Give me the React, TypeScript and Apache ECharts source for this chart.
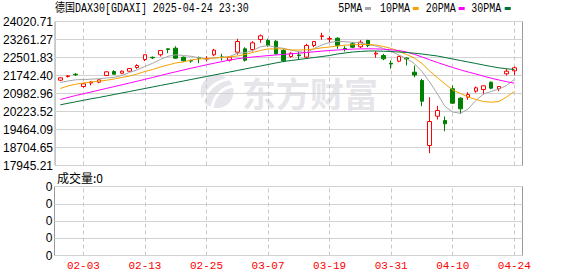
import React, { useEffect, useRef } from 'react';
import * as echarts from 'echarts';

const titleText = '德国DAX30[GDAXI] 2025-04-24 23:30';

const dates = [
  '01-29', '01-30', '01-31', '02-03', '02-04', '02-05', '02-06', '02-07', '02-10', '02-11',
  '02-12', '02-13', '02-14', '02-17', '02-18', '02-19', '02-20', '02-21', '02-24', '02-25',
  '02-26', '02-27', '02-28', '03-03', '03-04', '03-05', '03-06', '03-07', '03-10', '03-11',
  '03-12', '03-13', '03-14', '03-17', '03-18', '03-19', '03-20', '03-21', '03-24', '03-25',
  '03-26', '03-27', '03-28', '03-31', '04-01', '04-02', '04-03', '04-04', '04-07', '04-08',
  '04-09', '04-10', '04-11', '04-14', '04-15', '04-16', '04-17', '04-22', '04-23', '04-24',
];

// [open, close, low, high]
const ohlc = [
  [21544, 21645, 21502, 21666], [21700, 21730, 21658, 21763], [21797, 21772, 21721, 21848],
  [21278, 21392, 21223, 21405], [21426, 21468, 21321, 21510], [21460, 21561, 21418, 21574],
  [21742, 21898, 21721, 21911], [21911, 21797, 21785, 21966], [21839, 21924, 21797, 21953],
  [21924, 22038, 21911, 22051], [22080, 22164, 22025, 22219], [22417, 22616, 22346, 22629],
  [22510, 22489, 22434, 22544], [22616, 22797, 22544, 22810], [22869, 22839, 22683, 22875],
  [22894, 22472, 22447, 22979], [22515, 22363, 22333, 22544], [22375, 22350, 22278, 22417],
  [22493, 22468, 22261, 22544], [22434, 22460, 22333, 22557], [22616, 22810, 22557, 22869],
  [22527, 22502, 22375, 22658], [22388, 22515, 22333, 22523], [22725, 23177, 22616, 23291],
  [22869, 22388, 22333, 22936], [22839, 23122, 22755, 23190], [23261, 23417, 23122, 23472],
  [23219, 23008, 22953, 23291], [23190, 22658, 22616, 23232], [22797, 22363, 22304, 22869],
  [22544, 22683, 22489, 22725], [22607, 22578, 22405, 22755], [22515, 23008, 22447, 23080],
  [23008, 23177, 22936, 23190], [23388, 23417, 23249, 23544], [23278, 23303, 23147, 23400],
  [23316, 23008, 22869, 23358], [22882, 22856, 22755, 22979], [23080, 22936, 22894, 23147],
  [22953, 23147, 22894, 23232], [23219, 23008, 22936, 23249], [22649, 22683, 22489, 22768],
  [22586, 22447, 22388, 22658], [22261, 22228, 22025, 22375], [22346, 22544, 22304, 22586],
  [22481, 22439, 22164, 22515], [21882, 21764, 21671, 22164], [21531, 20658, 20447, 21603],
  [18789, 19802, 18464, 20827], [20025, 20266, 19886, 20464], [19844, 19705, 19392, 20013],
  [21181, 20574, 20548, 21321], [20785, 20337, 20127, 20827], [20827, 20941, 20717, 21038],
  [21080, 21223, 21012, 21278], [21152, 21308, 20941, 21321], [21460, 21207, 21164, 21489],
  [21181, 21278, 21080, 21299], [21814, 21924, 21742, 22025], [21941, 22067, 21755, 22122],
];

const ma5 = [
  21447, 21510, 21561, 21574, 21586, 21607, 21637, 21666, 21742, 21869,
  21983, 22122, 22257, 22417, 22552, 22616, 22586, 22552, 22493, 22426,
  22481, 22510, 22544, 22679, 22704, 22797, 22953, 23008, 22932, 22890,
  22814, 22746, 22713, 22882, 23029, 23135, 23185, 23168, 23143, 23114,
  23050, 22987, 22882, 22755, 22607, 22460, 22249, 21911, 21468, 20970,
  20434, 20202, 20147, 20329, 20688, 20962, 21067, 21173, 21321, 21574,
];

const ma10 = [
  21194, 21300, 21376, 21426, 21468, 21502, 21540, 21595, 21658, 21721,
  21806, 21911, 21996, 22101, 22185, 22270, 22312, 22396, 22439, 22460,
  22481, 22502, 22523, 22565, 22628, 22713, 22797, 22861, 22869, 22861,
  22818, 22818, 22827, 22861, 22911, 22945, 22987, 23021, 23038, 23050,
  23050, 23029, 22966, 22882, 22776, 22628, 22481, 22249, 21932, 21658,
  21384, 21131, 20983, 20835, 20730, 20645, 20616, 20645, 20835, 21067,
];

const ma20 = [
  20730, 20814, 20899, 20970, 21046, 21122, 21198, 21274, 21350, 21426,
  21502, 21582, 21658, 21742, 21822, 21898, 21974, 22050, 22122, 22194,
  22261, 22329, 22392, 22451, 22489, 22523, 22552, 22582, 22607, 22632,
  22658, 22683, 22713, 22742, 22772, 22797, 22818, 22839, 22856, 22865,
  22869, 22865, 22852, 22827, 22797, 22734, 22637, 22523, 22405, 22291,
  22185, 22080, 21983, 21890, 21806, 21713, 21629, 21553, 21481, 21418,
];

const ma30 = [
  20506, 20570, 20633, 20696, 20759, 20814, 20877, 20941, 21004, 21067,
  21131, 21194, 21257, 21321, 21384, 21447, 21510, 21574, 21637, 21700,
  21764, 21827, 21890, 21953, 22017, 22080, 22143, 22207, 22270, 22333,
  22375, 22417, 22460, 22502, 22544, 22586, 22650, 22692, 22734, 22755,
  22776, 22776, 22768, 22755, 22734, 22713, 22683, 22650, 22607, 22565,
  22502, 22439, 22375, 22312, 22249, 22185, 22122, 22067, 22025, 21996,
];

const volumes = [
  0, 0, 0, 0, 0, 0, 0, 0, 0, 0, 0, 0, 0, 0, 0, 0, 0, 0, 0, 0,
  0, 0, 0, 0, 0, 0, 0, 0, 0, 0, 0, 0, 0, 0, 0, 0, 0, 0, 0, 0,
  0, 0, 0, 0, 0, 0, 0, 0, 0, 0, 0, 0, 0, 0, 0, 0, 0, 0, 0, 0,
];

const yTickLabels = [
  '17945.21', '18704.65', '19464.09', '20223.52', '20982.96',
  '21742.40', '22501.83', '23261.27', '24020.71',
];
const yMin = 17945.21;
const yMax = 24020.71;

const volTickLabels = ['0', '0', '0', '0', '0'];
const xTickLabels = ['02-03', '02-13', '02-25', '03-07', '03-19', '03-31', '04-10', '04-24'];

const maNames = ['5PMA', '10PMA', '20PMA', '30PMA'];
const maColors = ['#a6a6a6', '#f5a300', '#ff00ff', '#007236'];

const MONO = 'Liberation Mono, Noto Sans CJK SC';
const CJK = 'Noto Sans CJK SC';

export default function App() {
  const ref = useRef<HTMLDivElement>(null);

  useEffect(() => {
    if (!ref.current) return;
    const chart = echarts.init(ref.current, undefined, { renderer: 'svg' });

    const dashed = {
      silent: true,
      symbol: ['none', 'none'],
      label: { show: false },
      emphasis: { disabled: true },
      lineStyle: { color: '#c8c8c8', type: [4, 3], width: 1 },
      data: xTickLabels.map((d) => ({ xAxis: d })),
    };

    const maSeries = [ma5, ma10, ma20, ma30].map((arr, k) => ({
      name: maNames[k],
      type: 'line',
      xAxisIndex: 0,
      yAxisIndex: 0,
      data: arr,
      symbol: 'none',
      showSymbol: false,
      silent: true,
      lineStyle: { color: maColors[k], width: 1 },
      itemStyle: { color: maColors[k] },
    }));

    const legendX = [338.3, 380, 425.7, 471.3];
    const legendIconX = [365, 412.7, 458.7, 504.7];
    const legendGraphics: any[] = [];
    maNames.forEach((n, k) => {
      legendGraphics.push({
        type: 'text',
        x: legendX[k],
        y: 8.5,
        scaleX: 0.833,
        style: { text: n, fontFamily: MONO, fontSize: 12, fill: '#000', verticalAlign: 'middle', align: 'left' },
      });
      legendGraphics.push({
        type: 'rect',
        shape: { x: legendIconX[k], y: 7, width: 6, height: 3 },
        style: { fill: maColors[k] },
      });
    });

    const option: any = {
      animation: false,
      grid: [
        { left: 56.45, top: 21.5, width: 461.7, height: 144 },
        { left: 54.5, top: 21.5, width: 468, height: 144, show: true, borderColor: '#9a9a9a', borderWidth: 1, backgroundColor: 'transparent' },
        { left: 54.5, top: 186.5, width: 468, height: 69, show: true, borderColor: '#9a9a9a', borderWidth: 1, backgroundColor: 'transparent' },
        { left: 56.45, top: 186.5, width: 461.7, height: 69 },
      ],
      xAxis: [
        { type: 'category', gridIndex: 0, data: dates, boundaryGap: true, axisLine: { show: false }, axisTick: { show: false }, axisLabel: { show: false }, splitLine: { show: false } },
        { type: 'value', gridIndex: 1, min: 0, max: 1, show: false },
        { type: 'value', gridIndex: 2, min: 0, max: 1, show: false },
        {
          type: 'category', gridIndex: 3, data: dates, boundaryGap: true,
          axisLine: { show: false }, axisTick: { show: false }, splitLine: { show: false },
          axisLabel: {
            interval: (_i: number, v: string) => xTickLabels.includes(v),
            color: '#ff0000', fontFamily: MONO, fontSize: 11, margin: 5,
          },
        },
      ],
      yAxis: [
        { type: 'value', gridIndex: 0, min: yMin, max: yMax, show: false, splitLine: { show: false } },
        {
          type: 'value', gridIndex: 1, min: 0, max: 8, interval: 1,
          axisLine: { show: false }, axisTick: { show: false },
          axisLabel: { formatter: (v: number) => yTickLabels[Math.round(v)], color: '#000', fontFamily: 'Liberation Sans', fontSize: 12, margin: 2 },
          splitLine: { show: true, lineStyle: { color: '#d2d2d2', width: 1 } },
        },
        {
          type: 'value', gridIndex: 2, min: 0, max: 4, interval: 1,
          axisLine: { show: false }, axisTick: { show: false },
          axisLabel: { formatter: (v: number) => volTickLabels[Math.round(v)], color: '#000', fontFamily: 'Liberation Sans', fontSize: 12, margin: 2 },
          splitLine: { show: true, lineStyle: { color: '#d2d2d2', width: 1 } },
        },
        { type: 'value', gridIndex: 3, min: 0, max: 1, show: false, splitLine: { show: false } },
      ],
      series: [
        {
          name: 'K',
          type: 'candlestick',
          xAxisIndex: 0,
          yAxisIndex: 0,
          data: ohlc,
          barWidth: 4,
          silent: true,
          itemStyle: {
            color: '#ffffff',
            color0: '#008000',
            borderColor: '#ff0000',
            borderColor0: '#008000',
            borderWidth: 1,
          },
          markLine: { ...dashed, z: 1 },
        },
        ...maSeries,
        {
          name: '成交量',
          type: 'bar',
          xAxisIndex: 3,
          yAxisIndex: 3,
          data: volumes,
          silent: true,
          itemStyle: { color: '#008000' },
          markLine: { ...dashed, z: 1 },
        },
      ],
      graphic: [
        // watermark
        { type: 'circle', z: -1, silent: true, shape: { cx: 217, cy: 91.5, r: 16.5 }, style: { fill: '#e6e6ea' } },
        { type: 'bezierCurve', z: -1, silent: true, shape: { x1: 202, y1: 103, cpx1: 207, cpy1: 88, cpx2: 217, cpy2: 80, x2: 233, y2: 78 }, style: { stroke: '#ffffff', lineWidth: 3, fill: 'none' } },
        { type: 'bezierCurve', z: -1, silent: true, shape: { x1: 212, y1: 108, cpx1: 214, cpy1: 95, cpx2: 223, cpy2: 87, x2: 234, y2: 86 }, style: { stroke: '#ffffff', lineWidth: 3, fill: 'none' } },
        { type: 'text', z: -1, silent: true, x: 242, y: 92.5, style: { text: '东方财富', fontFamily: CJK, fontSize: 34, fontWeight: 'bold', fill: '#e6e6ea', verticalAlign: 'middle', align: 'left' } },
        // title
        { type: 'text', x: 55, y: 8.5, scaleX: 0.833, style: { text: titleText, fontFamily: MONO, fontSize: 12, fill: '#000', verticalAlign: 'middle', align: 'left' } },
        ...legendGraphics,
        // volume caption
        { type: 'text', x: 57, y: 177.5, style: { text: '成交量:0', fontFamily: CJK, fontSize: 12, fill: '#000', verticalAlign: 'middle', align: 'left' } },
      ],
    };

    chart.setOption(option);
    return () => chart.dispose();
  }, []);

  return (
    <div
      ref={ref}
      style={{ position: 'fixed', left: 0, top: 0, width: 578, height: 276, background: '#ffffff' }}
    />
  );
}
